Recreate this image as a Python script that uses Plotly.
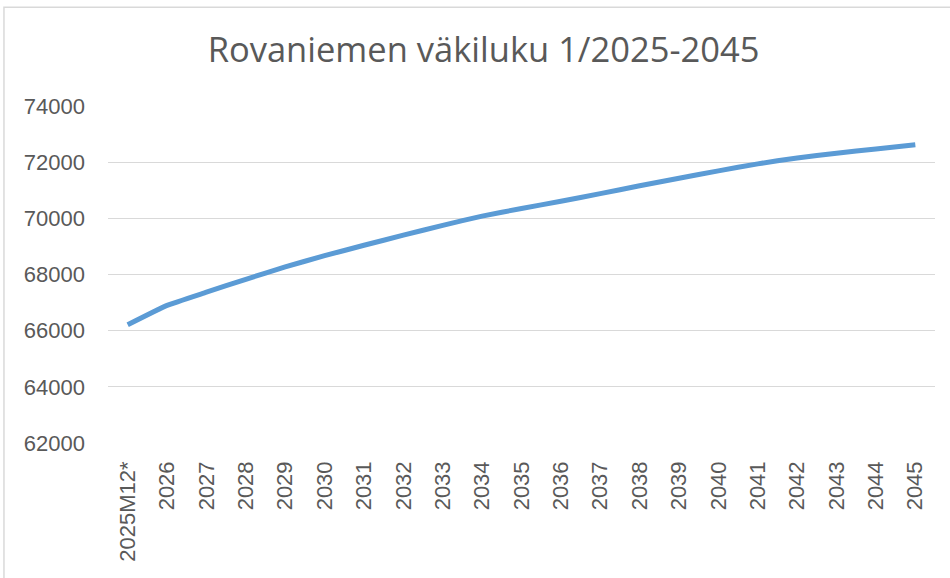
import plotly.graph_objects as go

categories = ["2025M12*", "2026", "2027", "2028", "2029", "2030", "2031", "2032",
              "2033", "2034", "2035", "2036", "2037", "2038", "2039", "2040",
              "2041", "2042", "2043", "2044", "2045"]
population = [66210, 66900, 67370, 67830, 68270, 68670, 69040, 69400,
              69750, 70080, 70350, 70610, 70880, 71160, 71430, 71690,
              71940, 72150, 72320, 72470, 72620]
y_ticks = [62000, 64000, 66000, 68000, 70000, 72000, 74000]
title_text = "Rovaniemen väkiluku 1/2025-2045"

TITLE_FONT = "Open Sans, Roboto, Arial, sans-serif"
TICK_FONT = "Liberation Sans, Arial, sans-serif"
GRAY = "#595959"

fig = go.Figure()
fig.add_trace(go.Scatter(
    x=categories, y=population, mode="lines",
    line=dict(color="#5B9BD5", width=5, shape="spline", smoothing=0.4),
    hoverinfo="x+y", showlegend=False,
))

fig.update_layout(
    width=950, height=578,
    paper_bgcolor="white", plot_bgcolor="white",
    margin=dict(l=108, r=15, t=105.5, b=134.5, autoexpand=False),
    title=dict(text=title_text, x=0.509, xanchor="center", y=0.913, yanchor="middle",
               font=dict(family=TITLE_FONT, size=34.5, color=GRAY)),
    font=dict(family=TICK_FONT, color=GRAY),
    xaxis=dict(
        type="category", range=[-0.5, len(categories) - 0.5],
        tickangle=-90, tickfont=dict(family=TICK_FONT, size=22, color=GRAY),
        showgrid=False, zeroline=False, showline=False,
        ticks="", ticklabelstandoff=13,
    ),
    yaxis=dict(
        range=[62000, 74000], tickvals=y_ticks, ticktext=[str(v) for v in y_ticks],
        tickfont=dict(family=TICK_FONT, size=22, color=GRAY),
        showgrid=True, gridcolor="#D9D9D9", gridwidth=1.3,
        zeroline=False, showline=False, ticks="", ticklabelstandoff=22,
    ),
    shapes=[dict(type="rect", xref="paper", yref="paper",
                 x0=-0.1258, x1=1.2, y0=-1.0, y1=1.2929,
                 line=dict(color="#D9D9D9", width=1.5), fillcolor="rgba(0,0,0,0)",
                 layer="below")],
)

fig.write_html("out.html", config={"displayModeBar": False},
               post_script="document.body.style.margin='0';")
